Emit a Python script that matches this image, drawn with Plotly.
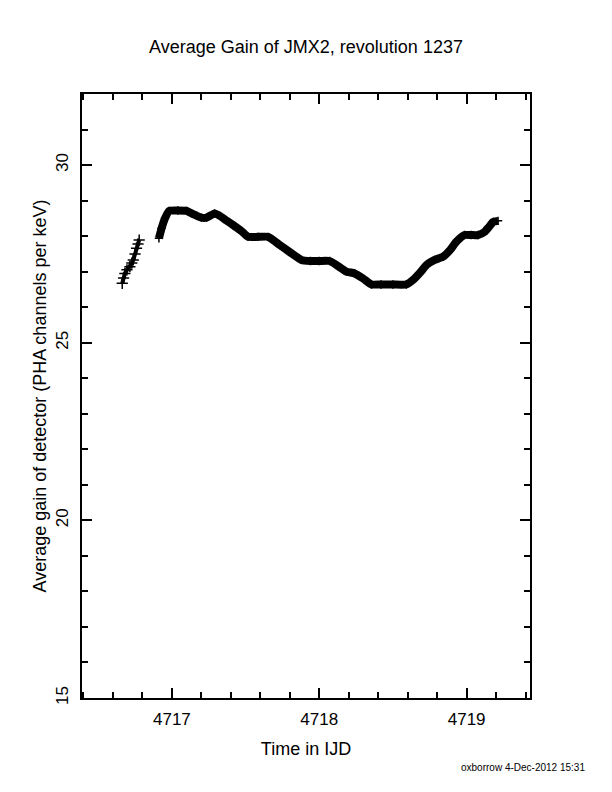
import plotly.graph_objects as go

# gain readings (IJD, PHA channels per keV)
early_ijd = [4716.663, 4716.672, 4716.681, 4716.695, 4716.715, 4716.728,
             4716.738, 4716.750, 4716.760, 4716.770, 4716.778]
early_gain = [26.67, 26.82, 26.95, 27.05, 27.14, 27.24,
              27.33, 27.50, 27.66, 27.78, 27.89]

main_ijd = [4716.912, 4716.930, 4716.953, 4716.982, 4717.040, 4717.100,
            4717.134, 4717.170, 4717.200, 4717.235, 4717.290, 4717.325,
            4717.370, 4717.416, 4717.470, 4717.517, 4717.585, 4717.653,
            4717.732, 4717.800, 4717.879, 4717.940, 4718.000, 4718.070,
            4718.130, 4718.184, 4718.240, 4718.300, 4718.354, 4718.420,
            4718.500, 4718.590, 4718.647, 4718.690, 4718.727, 4718.783,
            4718.840, 4718.890, 4718.930, 4718.986, 4719.030, 4719.077,
            4719.122, 4719.150, 4719.180, 4719.213]
main_gain = [27.94, 28.22, 28.50, 28.71, 28.72, 28.71,
             28.64, 28.57, 28.52, 28.52, 28.64, 28.57,
             28.44, 28.31, 28.15, 27.98, 27.98, 27.98,
             27.75, 27.55, 27.33, 27.30, 27.30, 27.30,
             27.15, 27.00, 26.95, 26.80, 26.64, 26.64,
             26.64, 26.64, 26.81, 27.00, 27.19, 27.33,
             27.42, 27.62, 27.84, 28.03, 28.03, 28.03,
             28.12, 28.25, 28.40, 28.43]

x_ticks = [4717, 4718, 4719]
y_ticks = [15, 20, 25, 30]

FONT = "Liberation Sans, Arial, Helvetica, sans-serif"

fig = go.Figure()
fig.add_trace(go.Scatter(x=early_ijd, y=early_gain, mode="lines+markers",
                         line=dict(color="black", width=4),
                         marker=dict(symbol="cross-thin", size=8,
                                     line=dict(color="black", width=1.5))))
fig.add_trace(go.Scatter(x=main_ijd, y=main_gain, mode="lines+markers",
                         line=dict(color="black", width=8, shape="spline", smoothing=0.5),
                         marker=dict(symbol="cross-thin", size=6,
                                     line=dict(color="black", width=1.5))))

axis_style = dict(showline=True, linewidth=2, linecolor="black", mirror="allticks",
                  ticks="inside", ticklen=10, tickwidth=2, tickcolor="black",
                  showgrid=False, zeroline=False,
                  tickfont=dict(family=FONT, size=17, color="black"))

fig.update_xaxes(range=[4716.39, 4719.43], tickvals=x_ticks, ticklabelstandoff=5,
                 minor=dict(dtick=0.2, tick0=4717, ticks="inside", ticklen=6,
                            tickwidth=2, tickcolor="black"),
                 title=dict(text="Time in IJD", standoff=14,
                            font=dict(family=FONT, size=18, color="black")),
                 **axis_style)
fig.update_yaxes(range=[15, 32], tickvals=y_ticks, tickangle=-90, ticklabelstandoff=5,
                 automargin=True,
                 minor=dict(dtick=1, tick0=15, ticks="inside", ticklen=6,
                            tickwidth=2, tickcolor="black"),
                 title=dict(text="Average gain of detector (PHA channels per keV)",
                            standoff=2,
                            font=dict(family=FONT, size=18, color="black")),
                 **axis_style)

# page body adds an 8px margin, so the figure is 8px smaller and shifted
fig.update_layout(
    width=604, height=784,
    margin=dict(l=74, r=82, t=86, b=94),
    paper_bgcolor="white", plot_bgcolor="white",
    showlegend=False,
    title=dict(text="Average Gain of JMX2, revolution 1237", x=(306 - 8) / 604,
               xanchor="center", y=1 - 39 / 784, yanchor="middle",
               font=dict(family=FONT, size=18, color="black")),
)
fig.add_annotation(text="oxborrow 4-Dec-2012 15:31", xref="paper", yref="paper",
                   x=(587 - 82) / 448, y=-(767 - 698) / 604,
                   xanchor="right", yanchor="middle", showarrow=False,
                   font=dict(family=FONT, size=10, color="black"))

fig.write_html("out.html")
